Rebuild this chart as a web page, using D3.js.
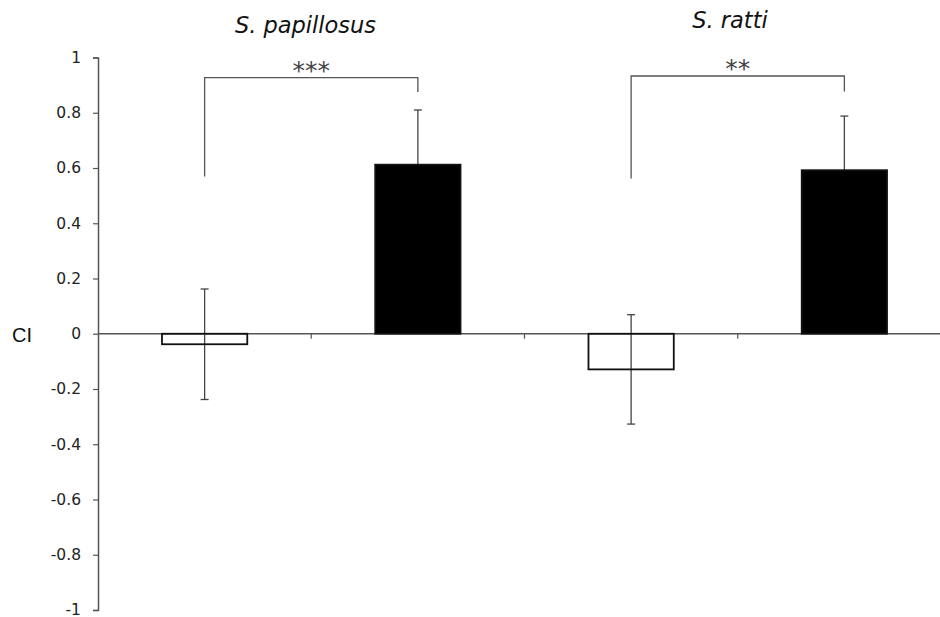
<!DOCTYPE html>
<html>
<head>
<meta charset="utf-8">
<script src="https://cdn.jsdelivr.net/npm/d3@7"></script>
<style>
  body { margin: 0; background: #fff; }
  svg { display: block; }
</style>
</head>
<body>
<div id="chart"></div>
<script>
// data
var groups = ["g1", "g2", "g3", "g4"];
var values = [-0.038, 0.612, -0.129, 0.592];
var errors = [0.2, 0.198, 0.198, 0.196];
var fills = ["none", "#000", "none", "#000"];
var yTicks = [-1, -0.8, -0.6, -0.4, -0.2, 0, 0.2, 0.4, 0.6, 0.8, 1];
var species = ["S. papillosus", "S. ratti"];
var stars = ["***", "**"];
// bracket heights: [left leg bottom, top, right leg bottom]
var brackets = [[0.569, 0.927, 0.875], [0.562, 0.933, 0.877]];

var width = 940, height = 617;

var svg = d3.select("#chart").append("svg")
  .attr("width", width)
  .attr("height", height);

var x = d3.scaleBand()
  .domain(groups)
  .range([98, 951])
  .paddingInner(0.6)
  .paddingOuter(0.3);

var y = d3.scaleLinear()
  .domain([-1, 1])
  .range([610, 57.5]);

var step = x.step();
var x0 = 98;

// y axis
var yAxis = d3.axisLeft(y)
  .tickValues(yTicks)
  .tickSize(5)
  .tickFormat(function(d) { return String(+d.toFixed(1)); });

var gy = svg.append("g")
  .attr("transform", "translate(" + x0 + ",0)")
  .call(yAxis);
gy.attr("font-size", null).attr("font-family", null);
gy.select(".domain").attr("stroke", "#555").attr("stroke-width", 1.5);
gy.selectAll(".tick line").attr("stroke", "#555").attr("stroke-width", 1.2);
gy.selectAll(".tick text")
  .attr("x", -17)
  .style("font-family", "DejaVu Sans, Verdana, sans-serif")
  .style("font-size", "15.5px")
  .attr("fill", "#222");

// zero line with category ticks
svg.append("line")
  .attr("x1", x0).attr("x2", width)
  .attr("y1", y(0)).attr("y2", y(0))
  .attr("stroke", "#555").attr("stroke-width", 1.5);

svg.selectAll(".ctick").data(d3.range(1, 5)).enter()
  .append("line")
  .attr("class", "ctick")
  .attr("x1", function(i) { return x0 + i * step; })
  .attr("x2", function(i) { return x0 + i * step; })
  .attr("y1", y(0)).attr("y2", y(0) + 5)
  .attr("stroke", "#555").attr("stroke-width", 1.2);

// error bars (drawn first so black bars hide the lower half)
var eb = svg.selectAll(".err").data(groups).enter()
  .append("g").attr("class", "err")
  .attr("stroke", "#444").attr("stroke-width", 1.3);

eb.append("line")
  .attr("x1", function(d) { return x(d) + x.bandwidth() / 2; })
  .attr("x2", function(d) { return x(d) + x.bandwidth() / 2; })
  .attr("y1", function(d, i) { return y(values[i] - errors[i]); })
  .attr("y2", function(d, i) { return y(values[i] + errors[i]); });

eb.append("line")
  .attr("x1", function(d) { return x(d) + x.bandwidth() / 2 - 4; })
  .attr("x2", function(d) { return x(d) + x.bandwidth() / 2 + 4; })
  .attr("y1", function(d, i) { return y(values[i] + errors[i]); })
  .attr("y2", function(d, i) { return y(values[i] + errors[i]); });

eb.append("line")
  .attr("x1", function(d) { return x(d) + x.bandwidth() / 2 - 4; })
  .attr("x2", function(d) { return x(d) + x.bandwidth() / 2 + 4; })
  .attr("y1", function(d, i) { return y(values[i] - errors[i]); })
  .attr("y2", function(d, i) { return y(values[i] - errors[i]); });

// bars
svg.selectAll(".bar").data(groups).enter()
  .append("rect")
  .attr("class", "bar")
  .attr("x", function(d) { return x(d); })
  .attr("width", x.bandwidth())
  .attr("y", function(d, i) { return y(Math.max(0, values[i])); })
  .attr("height", function(d, i) { return Math.abs(y(values[i]) - y(0)); })
  .attr("fill", function(d, i) { return fills[i]; })
  .attr("stroke", "#111")
  .attr("stroke-width", 1.8);

// significance brackets
brackets.forEach(function(b, k) {
  var xl = x(groups[2 * k]) + x.bandwidth() / 2;
  var xr = x(groups[2 * k + 1]) + x.bandwidth() / 2;
  svg.append("path")
    .attr("d", "M" + xl + "," + y(b[0]) + "V" + y(b[1]) + "H" + xr + "V" + y(b[2]))
    .attr("fill", "none")
    .attr("stroke", "#555")
    .attr("stroke-width", 1.3);
  svg.append("text")
    .attr("x", (xl + xr) / 2)
    .attr("y", y(b[1]) + 1)
    .attr("text-anchor", "middle")
    .attr("font-family", "DejaVu Sans, Verdana, sans-serif")
    .attr("font-size", 25)
    .attr("fill", "#444")
    .text(stars[k]);
});

// species titles
var titleX = [305.5, 730];
var titleY = [33, 28];
species.forEach(function(s, k) {
  svg.append("text")
    .attr("x", titleX[k])
    .attr("y", titleY[k])
    .attr("text-anchor", "middle")
    .attr("font-family", "DejaVu Sans, Verdana, sans-serif")
    .attr("font-style", "italic")
    .attr("font-size", 22.5)
    .attr("fill", "#111")
    .text(s);
});

// y label
svg.append("text")
  .attr("x", 12)
  .attr("y", y(0) + 8)
  .attr("font-family", "Liberation Sans, Arial, sans-serif")
  .attr("font-size", 20)
  .attr("fill", "#111")
  .text("CI");
</script>
</body>
</html>
